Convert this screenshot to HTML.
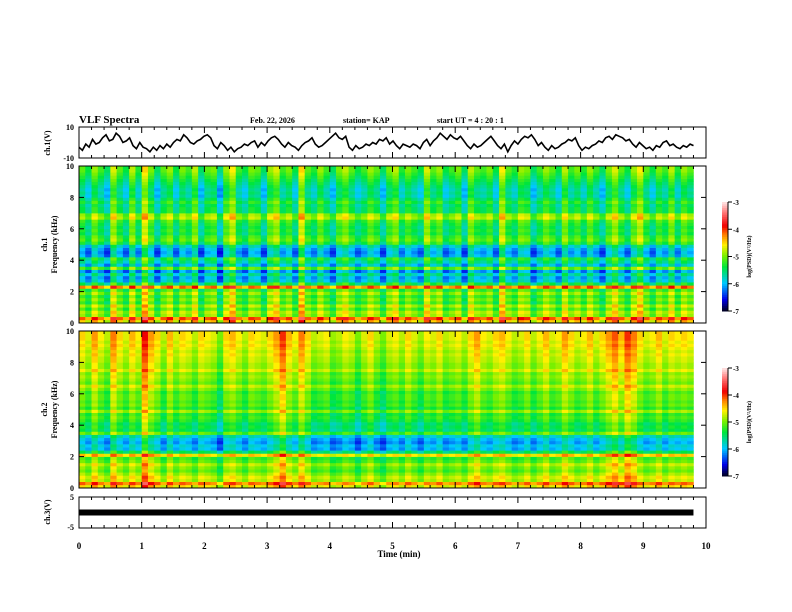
<!DOCTYPE html>
<html><head><meta charset="utf-8"><style>
body{margin:0;background:#fff}
svg{display:block}
text{font-family:"Liberation Serif",serif;font-weight:bold;fill:#000}
</style></head><body>
<svg id="c" width="792" height="612" viewBox="0 0 792 612">
<text x="79" y="123" font-size="11">VLF Spectra</text>
<text x="250" y="123" font-size="8">Feb. 22, 2026</text>
<text x="343" y="123" font-size="8">station= KAP</text>
<text x="437" y="123" font-size="8">start  UT =  4 : 20 : 1</text>
<g id="g"></g>
</svg>
<script>
const NS="http://www.w3.org/2000/svg";
const root=document.getElementById('g');
function el(t,a,p){const e=document.createElementNS(NS,t);for(const k in a)e.setAttribute(k,a[k]);(p||root).appendChild(e);return e;}
const X0=79,X1=706;
const xTicks=[0,1,2,3,4,5,6,7,8,9,10];
const xs=t=>X0+(X1-X0)*t/10;
// ch1 waveform (V), evenly sampled over 0..9.8 min
const ch1Values=[-3,-5,-1,-3,2,-1,0,3,5,1,2,6,4,0,1,3,-2,-4,0,-3,-4,-6,-3,-5,-2,-4,-1,-3,0,2,1,5,3,0,-1,1,2,4,5,3,-2,-4,0,-2,-5,-3,-6,-4,-3,-1,-2,0,1,-3,0,-2,1,3,4,2,-1,-3,0,-2,-3,-5,-2,0,1,3,-1,-3,-2,0,2,4,6,3,2,4,-3,-5,-2,-4,-3,-1,-2,0,-1,2,1,3,-1,1,-2,-4,-1,-2,-3,-1,-2,-4,0,2,-2,1,3,6,4,2,5,3,2,4,1,-2,-4,-1,-3,-2,0,2,4,1,-2,-4,-1,-6,-2,1,-1,2,4,3,5,2,-2,0,-3,-5,-2,-4,-3,-1,0,2,1,3,-2,-5,-3,-4,-2,-1,1,0,3,4,2,5,4,3,1,2,-1,-3,0,-2,-4,-3,-5,-2,-3,0,1,-2,-1,-3,-4,-2,-3,-1,-2];
const ch1Times=ch1Values.map((v,i)=>i*9.8/(ch1Values.length-1));
// spectrogram band levels log(PSD) from 0 kHz to 10 kHz, step 0.2 kHz
const freqs=Array.from({length:50},(_,i)=>i*0.2);
const band1=[-4.6,-4.2,-5.0,-4.9,-5.2,-4.9,-5.3,-5.1,-5.3,-5.0,-5.3,-4.3,-5.5,-6.0,-6.1,-5.8,-6.2,-5.2,-6.0,-5.7,-5.5,-6.1,-6.2,-6.1,-5.9,-5.4,-5.2,-5.3,-5.5,-5.4,-5.5,-5.4,-5.3,-4.9,-5.0,-5.5,-5.5,-5.6,-5.4,-5.6,-5.8,-5.7,-5.8,-5.7,-5.6,-5.5,-5.4,-5.3,-5.2,-5.2];
const band2=[-4.8,-4.4,-5.0,-4.9,-5.1,-5.3,-5.2,-5.0,-5.3,-5.4,-4.7,-5.7,-6.2,-6.1,-6.3,-6.2,-6.0,-5.3,-5.7,-5.6,-5.7,-5.5,-5.4,-5.5,-5.1,-5.5,-5.3,-5.4,-5.3,-5.3,-5.4,-5.2,-5.0,-5.3,-5.2,-5.1,-5.2,-4.9,-5.1,-5.1,-5.0,-5.0,-4.9,-5.0,-4.9,-4.8,-4.9,-4.8,-4.8,-4.8];
// per-time activity offsets (0.1 min bins)
const act1=[0.1,-0.2,0.3,0,-0.3,0.5,0.1,-0.2,0.4,-0.1,0.7,0.2,-0.3,0.1,0.3,-0.2,0.2,0,0.4,-0.3,0.1,0.2,-0.4,0.3,0.6,0,-0.2,0.2,0.1,-0.3,0.3,0.5,0,0.2,-0.2,0.7,0.1,-0.1,0.3,0,-0.3,0.2,0.4,0.1,-0.2,0,0.3,0.1,-0.3,0.2,0.4,-0.1,0.2,0,-0.2,0.5,0.1,0.3,-0.2,0,0.2,-0.3,0.4,0.1,0,0.2,-0.2,0.6,0.1,-0.1,0.3,0.2,-0.3,0,0.3,0.1,-0.2,0.4,0,0.2,-0.1,0.3,0,-0.3,0.2,0.5,0.1,-0.2,0.3,0.6,0.1,-0.2,0.2,0,0.4,-0.1,0.3,0.1];
const act2=[0.3,0.1,0.5,0.2,0,0.6,0.3,0.1,0.4,0.2,0.9,0.5,0.3,0,0.4,0.1,0.3,0.2,0,0.3,0.2,0.1,-0.2,0.3,0.4,0.2,0,0.3,0.2,0.1,0.3,0.5,0.8,0.4,0.2,0.6,0.3,0,0.1,0.2,-0.1,0,0.2,0.1,-0.2,0.1,0.3,0,-0.2,0.1,0.2,0,0.3,0.1,-0.1,0.2,0.1,0.3,0,0.1,0.2,0,0.3,0.5,0.2,0.1,0.3,0.4,0.2,0,0.1,0.3,0,0.2,0.4,0.1,0.2,0.5,0.3,0.1,0.2,0.4,0.1,0.3,0.5,0.7,0.4,0.8,0.6,0.3,0.1,0.2,0.4,0.1,0.3,0.2,0.3,0.2];
const ch3Value=0;
function cmap(v){
 const stops=[[-7,[0,0,40]],[-6.6,[0,0,230]],[-6,[0,200,255]],[-5.4,[0,230,60]],[-5,[120,240,0]],[-4.6,[255,240,0]],[-4.2,[255,120,0]],[-3.9,[240,0,0]],[-3.4,[255,120,120]],[-3,[255,240,240]]];
 if(v<=-7)return 'rgb(0,0,40)'; if(v>=-3)return 'rgb(255,240,240)';
 for(let i=0;i<stops.length-1;i++){const[a,ca]=stops[i],[b,cb]=stops[i+1];if(v>=a&&v<=b){const f=(v-a)/(b-a);return 'rgb('+ca.map((c,j)=>Math.round(c+(cb[j]-c)*f)).join(',')+')';}}
}
function frame(y0,y1,name){
 const r=el('rect',{x:X0,y:y0,width:X1-X0,height:y1-y0,fill:'none',stroke:'#000','stroke-width':1});
 
 
 for(let t=0;t<=10.001;t+=0.2){const x=xs(t);const L=Math.abs(t-Math.round(t))<0.01?6:3;
  el('line',{x1:x,x2:x,y1:y0,y2:y0+L,stroke:'#000'});el('line',{x1:x,x2:x,y1:y1,y2:y1-L,stroke:'#000'});}
}
function ylab(txt,x,y,cy,name){
 const t=el('text',{x:x,y:y,'font-size':8,'text-anchor':'end'});t.textContent=txt;
 
 
}
function vtitle(txt,x,y,name,fs){
 const t=el('text',{x:x,y:y,'font-size':fs||8,'text-anchor':'middle',transform:'rotate(-90 '+x+' '+y+')'});t.textContent=txt;
 
 
}
// ch1 panel
const c1y0=127,c1y1=158;const y1s=v=>c1y0+(10-v)/20*(c1y1-c1y0);
let d='';ch1Values.forEach((v,i)=>{d+=(i?'L':'M')+xs(ch1Times[i]).toFixed(1)+' '+y1s(v).toFixed(1);});
const wl=el('path',{d:d,fill:'none',stroke:'#000','stroke-width':1.6});


frame(c1y0,c1y1,'ch1-panel');
ylab('10',74,130,0,'ch1-ytick-10');ylab('-10',74,161,0,'ch1-ytick-neg10');
vtitle('ch.1(V)',50,143,'ch1-y-title');
// spectrograms
function spec(y0,y1,band,act,pref,cbY0,cbY1){
 const ys=f=>y1-(f)/10*(y1-y0);
 const g=el('g',{});
 
 
 const cw=xs(0.1)-xs(0);
 act.forEach((a,ti)=>{band.forEach((b,fi)=>{
  const r=el('rect',{x:xs(ti*0.1).toFixed(2),y:ys(freqs[fi]+0.2).toFixed(2),width:(cw+0.3).toFixed(2),height:(ys(0)-ys(0.2)+0.3).toFixed(2),fill:cmap(b+a)},g);
  
  
 });});
 frame(y0,y1,pref+'-panel');
 [0,2,4,6,8,10].forEach(f=>{ylab(String(f),74,ys(f)+3,0,pref+'-ytick-'+f);el('line',{x1:X0,x2:X0+5,y1:ys(f),y2:ys(f),stroke:'#000'});el('line',{x1:X1,x2:X1-5,y1:ys(f),y2:ys(f),stroke:'#000'});});
 vtitle(pref.replace('ch','ch.'),47,(y0+y1)/2,pref+'-channel-title');
 vtitle('Frequency  (kHz)',57,(y0+y1)/2,pref+'-y-title');
 const cb=el('g',{});
 const n=60;for(let i=0;i<n;i++){const v=-7+4*i/n;el('rect',{x:722,y:cbY1-(i+1)*(cbY1-cbY0)/n,width:6,height:(cbY1-cbY0)/n+0.5,fill:cmap(v)},cb);}
 el('line',{x1:728,x2:728,y1:cbY0,y2:cbY1,stroke:'#000'},cb);
 [-3,-4,-5,-6,-7].forEach(v=>{const y=cbY1-(v+7)/4*(cbY1-cbY0);el('line',{x1:728,x2:732,y1:y,y2:y,stroke:'#000'},cb);const t=el('text',{x:733,y:y+3,'font-size':7},cb);t.textContent=String(v);});
 vtitle('log(PSD)(V\u00B2/Hz)',751,(cbY0+cbY1)/2,pref+'-colorbar-title',6);
}
spec(166,323,band1,act1,'ch1',202,311);
spec(331,488,band2,act2,'ch2',368,476);
// ch3
const c3y0=497,c3y1=528;const y3s=v=>c3y0+(5-v)/10*(c3y1-c3y0);
const bar=el('rect',{x:X0,y:y3s(ch3Value)-3,width:xs(9.8)-X0,height:6,fill:'#000'});


frame(c3y0,c3y1,'ch3-panel');
ylab('5',74,c3y0+3,0,'ch3-ytick-5');ylab('-5',74,c3y1+2,0,'ch3-ytick-neg5');
vtitle('ch.3(V)',50,512,'ch3-y-title');
xTicks.forEach(t=>{const e=el('text',{x:xs(t),y:549,'font-size':9,'text-anchor':'middle'});e.textContent=String(t);
 
 });
const xt=el('text',{x:399,y:557,'font-size':9,'text-anchor':'middle'});xt.textContent='Time  (min)';


</script>
</body></html>
